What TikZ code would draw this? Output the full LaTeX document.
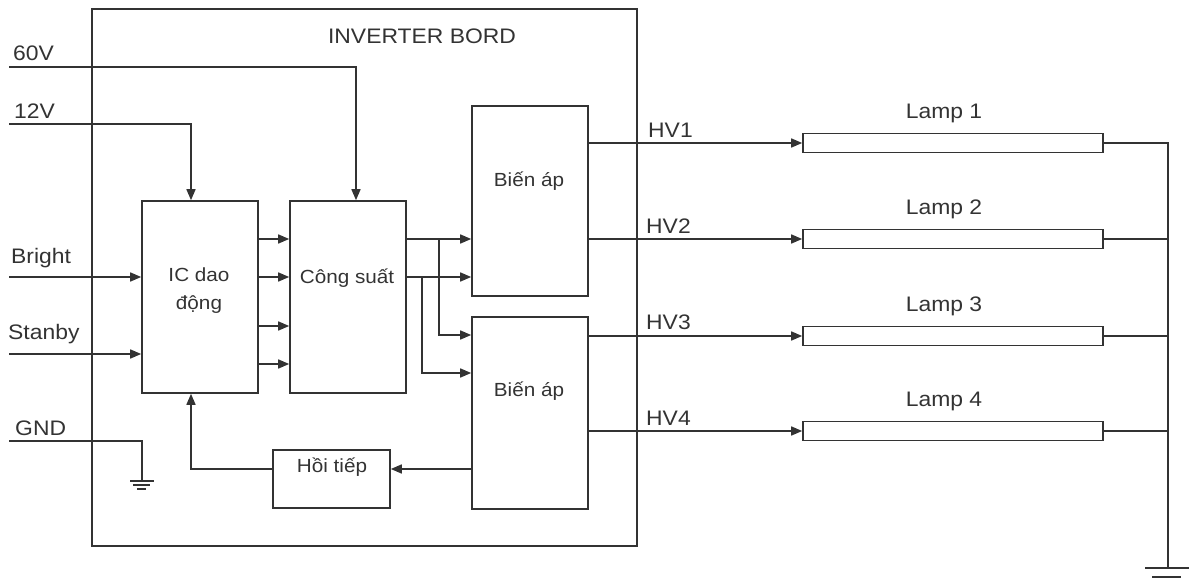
\documentclass[tikz,border=0pt]{standalone}
\usepackage{fontspec}
\setmainfont{Liberation Sans}[FakeStretch=1.09]
\usetikzlibrary{arrows.meta}
\definecolor{ink}{HTML}{333333}
\begin{document}
\begin{tikzpicture}[x=1pt,y=-1pt,
  every node/.style={font=\fontsize{21}{28}\selectfont, text=ink},
  box/.style={draw=ink, line width=1.6pt, inner sep=0pt},
  wire/.style={draw=ink, line width=1.6pt},
  arr/.style={wire, -{Triangle[length=11pt,width=9pt]}},
  lbl/.style={inner sep=0pt},
  blbl/.style={inner sep=0pt, font=\fontsize{19}{28}\selectfont},
  gl/.style={draw=ink, line width=1.8pt}
]
\useasboundingbox (0,0) rectangle (1192,580);

% outer board
\node[box, minimum width=545pt, minimum height=537pt] (board) at (364.5,277.5) {};
\node[lbl] (title) at (422,36) {INVERTER BORD};

% blocks
\node[box, minimum width=116pt, minimum height=192pt] (ic) at (200,297) {};
\node[blbl, align=center] (icT) at (199,291) {IC dao\\động};
\node[box, minimum width=116pt, minimum height=192pt] (cs) at (348,297) {};
\node[blbl] (csT) at (347,278) {Công suất};
\node[box, minimum width=116pt, minimum height=190pt] (ba1) at (530,201) {};
\node[blbl] (ba1T) at (529,181) {Biến áp};
\node[box, minimum width=116pt, minimum height=192pt] (ba2) at (530,413) {};
\node[blbl] (ba2T) at (529,391) {Biến áp};
\node[box, minimum width=117pt, minimum height=58pt] (ht) at (331.5,479) {};
\node[blbl] (htT) at (332,467) {Hồi tiếp};

% lamps
\foreach \i/\y in {1/143,2/239,3/336,4/431}{
  \node[box, minimum width=300pt, minimum height=19pt] (lamp\i) at (953,\y) {};
  \node[lbl] (lampT\i) at (944,\y-30) {Lamp \i};
}

% input labels
\node[lbl, anchor=west] (l60) at (13,53) {60V};
\node[lbl, anchor=west] (l12) at (14,111) {12V};
\node[lbl, anchor=west] (lbr) at (11,258) {Bright};
\node[lbl, anchor=west] (lst) at (8,334) {Stanby};
\node[lbl, anchor=west] (lgnd) at (15,428) {GND};

% HV labels
\node[lbl, anchor=west] (hv1) at (648,130) {HV1};
\node[lbl, anchor=west] (hv2) at (646,226) {HV2};
\node[lbl, anchor=west] (hv3) at (646,322) {HV3};
\node[lbl, anchor=west] (hv4) at (646,418) {HV4};

% coordinates
\coordinate (in60) at (9,67);
\coordinate (in12) at (9,124);
\coordinate (inbr) at (9,277);
\coordinate (inst) at (9,354);
\coordinate (ingnd) at (9,441);
\coordinate (g1) at (142,481);
\coordinate (j1) at (439,239);
\coordinate (j2) at (422,277);
\coordinate (g2) at (1168,568);

% supply inputs
\draw[arr] (in60) -| ([xshift=8pt]cs.north);
\draw[arr] (in12) -| ([xshift=-9pt]ic.north);
\draw[arr] (inbr) -- (inbr -| ic.west);
\draw[arr] (inst) -- (inst -| ic.west);
\draw[wire] (ingnd) -| (g1);
\draw[gl] (130,481) -- (154,481);
\draw[gl] (133,485) -- (150,485);
\draw[gl] (137,489) -- (146,489);

% IC -> Cong suat
\foreach \y in {239,277,326,364}
  \draw[arr] (ic.east |- 0,\y) -- (cs.west |- 0,\y);

% Cong suat -> Bien ap
\draw[arr] (cs.east |- j1) -- (ba1.west |- j1);
\draw[arr] (cs.east |- j2) -- (ba1.west |- j2);
\draw[arr] (j1) |- (ba2.west |- 0,335);
\draw[arr] (j2) |- (ba2.west |- 0,373);

% feedback
\draw[arr] (ba2.west |- 0,469) -- (ht.east |- 0,469);
\draw[arr] (ht.west |- 0,469) -| ([xshift=-9pt]ic.south);

% HV outputs
\draw[arr] (ba1.east |- lamp1) -- (lamp1.west);
\draw[arr] (ba1.east |- lamp2) -- (lamp2.west);
\draw[arr] (ba2.east |- lamp3) -- (lamp3.west);
\draw[arr] (ba2.east |- lamp4) -- (lamp4.west);

% return bus
\draw[wire] (lamp1.east) -| (g2);
\draw[wire] (lamp2.east) -- (lamp2.east -| g2);
\draw[wire] (lamp3.east) -- (lamp3.east -| g2);
\draw[wire] (lamp4.east) -- (lamp4.east -| g2);
\draw[gl] (1145,568) -- (1189,568);
\draw[gl] (1152,577) -- (1181,577);
\end{tikzpicture}
\end{document}
